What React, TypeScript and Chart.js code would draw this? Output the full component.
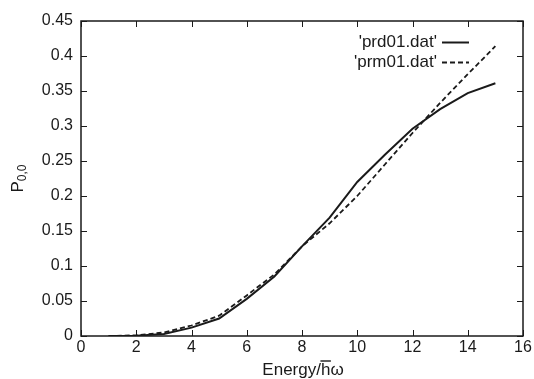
import React, { useEffect, useRef } from "react";
import { Chart, registerables } from "chart.js";

Chart.register(...registerables);

const energies = [1, 2, 3, 4, 5, 6, 7, 8, 9, 10, 11, 12, 13, 14, 15];
const prd01 = [0, 0.0005, 0.003, 0.012, 0.025, 0.053, 0.085, 0.128, 0.169, 0.22, 0.259, 0.296, 0.324, 0.347, 0.361];
const prm01 = [0, 0.001, 0.005, 0.015, 0.029, 0.058, 0.088, 0.128, 0.161, 0.2, 0.245, 0.29, 0.333, 0.374, 0.414];
const seriesLabels = ["'prd01.dat'", "'prm01.dat'"];
const xTicks = [0, 2, 4, 6, 8, 10, 12, 14, 16];
const yTicks = [0, 0.05, 0.1, 0.15, 0.2, 0.25, 0.3, 0.35, 0.4, 0.45];

const FONT = "'Liberation Sans', Arial, Helvetica, sans-serif";
const INK = "#1a1a1a";

const framePlugin = {
  id: "frame",
  afterDraw(chart: any) {
    const { ctx, chartArea: a, scales } = chart;
    ctx.save();
    ctx.strokeStyle = INK;
    ctx.lineWidth = 1.5;
    ctx.strokeRect(a.left, a.top, a.right - a.left, a.bottom - a.top);
    ctx.lineWidth = 1;
    const tl = 6;
    ctx.beginPath();
    xTicks.forEach((v) => {
      const px = Math.round(scales.x.getPixelForValue(v)) + 0.5;
      ctx.moveTo(px, a.bottom);
      ctx.lineTo(px, a.bottom - tl);
      ctx.moveTo(px, a.top);
      ctx.lineTo(px, a.top + tl);
    });
    yTicks.forEach((v) => {
      const py = Math.round(scales.y.getPixelForValue(v)) + 0.5;
      ctx.moveTo(a.left, py);
      ctx.lineTo(a.left + tl, py);
      ctx.moveTo(a.right, py);
      ctx.lineTo(a.right - tl, py);
    });
    ctx.stroke();

    // legend
    ctx.fillStyle = INK;
    ctx.font = `17px ${FONT}`;
    ctx.textAlign = "right";
    ctx.textBaseline = "middle";
    const textRight = 437;
    const rows = [42, 62];
    chart.data.datasets.forEach((ds: any, i: number) => {
      ctx.fillText(ds.label, textRight, rows[i]);
      ctx.beginPath();
      ctx.lineWidth = ds.borderWidth;
      ctx.setLineDash(ds.borderDash || []);
      ctx.moveTo(442, rows[i] + 0.5);
      ctx.lineTo(469, rows[i] + 0.5);
      ctx.stroke();
      ctx.setLineDash([]);
    });

    // x title: Energy/h̄ω
    const cx = (a.left + a.right) / 2 + 1;
    const ty = 370;
    ctx.font = `17px ${FONT}`;
    ctx.textAlign = "left";
    ctx.textBaseline = "middle";
    const p1 = "Energy/";
    const p2 = "h";
    const p3 = "ω";
    const w1 = ctx.measureText(p1).width;
    const w2 = ctx.measureText(p2).width;
    const w3 = ctx.measureText(p3).width;
    const sx = cx - (w1 + w2 + w3) / 2;
    ctx.fillText(p1, sx, ty);
    ctx.fillText(p2, sx + w1, ty);
    ctx.fillText(p3, sx + w1 + w2, ty);
    ctx.beginPath();
    ctx.lineWidth = 1.4;
    ctx.moveTo(sx + w1 - 0.5, ty - 9);
    ctx.lineTo(sx + w1 + w2 + 0.5, ty - 9);
    ctx.stroke();

    // y title: P_{0,0}
    ctx.save();
    ctx.translate(18, (a.top + a.bottom) / 2);
    ctx.rotate(-Math.PI / 2);
    ctx.font = `17px ${FONT}`;
    const wp = ctx.measureText("P").width;
    ctx.font = `12px ${FONT}`;
    const ws = ctx.measureText("0,0").width;
    const start = -(wp + ws) / 2;
    ctx.font = `17px ${FONT}`;
    ctx.fillText("P", start, 0);
    ctx.font = `12px ${FONT}`;
    ctx.fillText("0,0", start + wp, 5);
    ctx.restore();

    ctx.restore();
  },
};

export default function App() {
  const ref = useRef<HTMLCanvasElement | null>(null);
  useEffect(() => {
    document.body.style.margin = "0";
    if (!ref.current) return;
    const chart = new Chart(ref.current, {
      type: "line",
      data: {
        datasets: [
          {
            label: seriesLabels[0],
            data: energies.map((e, i) => ({ x: e, y: prd01[i] })),
            borderColor: INK,
            borderWidth: 2,
            pointRadius: 0,
            tension: 0,
            fill: false,
          },
          {
            label: seriesLabels[1],
            data: energies.map((e, i) => ({ x: e, y: prm01[i] })),
            borderColor: INK,
            borderWidth: 1.8,
            borderDash: [5, 3],
            pointRadius: 0,
            tension: 0,
            fill: false,
          },
        ],
      },
      options: {
        animation: false,
        responsive: false,
        maintainAspectRatio: false,
        devicePixelRatio: 1,
        layout: { padding: { left: 0, right: 11, top: 21, bottom: 0 } },
        plugins: { legend: { display: false }, tooltip: { enabled: false }, title: { display: false } },
        scales: {
          x: {
            type: "linear",
            min: 0,
            max: 16,
            afterBuildTicks: (s: any) => {
              s.ticks = xTicks.map((v) => ({ value: v }));
            },
            afterFit: (s: any) => {
              s.height = 43;
            },
            grid: { display: true, drawOnChartArea: false, drawTicks: false, tickLength: 0 },
            border: { display: false },
            ticks: {
              color: INK,
              font: { family: FONT, size: 16 },
              padding: 2,
              maxRotation: 0,
              callback: (v: any) => String(v),
            },
          },
          y: {
            type: "linear",
            min: 0,
            max: 0.45,
            afterBuildTicks: (s: any) => {
              s.ticks = yTicks.map((v) => ({ value: v }));
            },
            afterFit: (s: any) => {
              s.width = 81;
            },
            grid: { display: true, drawOnChartArea: false, drawTicks: false, tickLength: 0 },
            border: { display: false },
            ticks: {
              color: INK,
              font: { family: FONT, size: 16 },
              padding: 8,
              callback: (v: any) => String(Number(Number(v).toFixed(2))),
            },
          },
        },
      },
      plugins: [framePlugin],
    });
    return () => chart.destroy();
  }, []);
  return (
    <div style={{ width: 534, height: 379 }}>
      <canvas ref={ref} width={534} height={379} style={{ display: "block", width: 534, height: 379 }} />
    </div>
  );
}
